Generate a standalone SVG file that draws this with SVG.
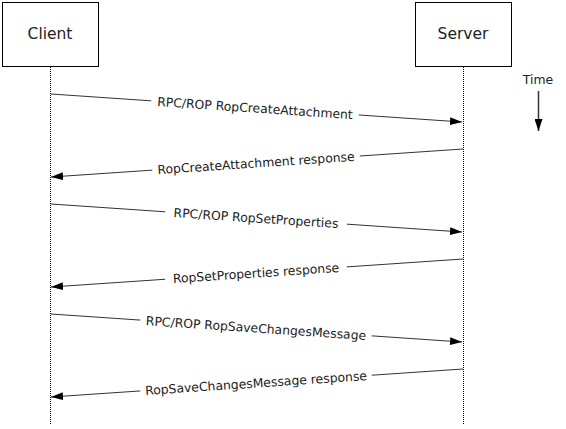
<svg xmlns="http://www.w3.org/2000/svg" width="566" height="429" viewBox="0 0 566 429">
<style>
.box{fill:#fff;stroke:#000;stroke-width:1}
.life{stroke:#000;stroke-width:1;stroke-dasharray:1,1}
.msg{stroke:#333;stroke-width:1;fill:none;marker-end:url(#ah)}
.lbl{font-family:"DejaVu Sans",Verdana,sans-serif;font-size:12.4px;fill:#222;text-anchor:middle}
.nm{font-family:"DejaVu Sans",Verdana,sans-serif;font-size:15.5px;fill:#222;text-anchor:middle}
.bg{fill:#fff}
</style>
<defs>
<marker id="ah" markerWidth="12" markerHeight="8" refX="12" refY="4" orient="auto" markerUnits="userSpaceOnUse">
<path d="M0,0 L12,4 L0,8 Z" fill="#000"/>
</marker>
</defs>
<rect width="566" height="429" fill="#fff"/>
<g id="client">
<rect class="box" x="2.5" y="2.5" width="96" height="64"/>
<text class="nm" x="50" y="39">Client</text>
<line class="life" x1="50.5" y1="67" x2="50.5" y2="425"/>
</g>
<g id="server">
<rect class="box" x="415.5" y="2.5" width="96" height="64"/>
<text class="nm" x="463" y="39">Server</text>
<line class="life" x1="463.5" y1="67" x2="463.5" y2="425"/>
</g>
<g id="time">
<text class="lbl" x="538" y="84">Time</text>
<line x1="538.5" y1="91" x2="538.5" y2="131" stroke="#333" stroke-width="1.5" marker-end="url(#ah)"/>
</g>
<g id="connectors">
<line class="msg" x1="51" y1="94" x2="462" y2="122"/>
<line class="msg" x1="463" y1="149" x2="51" y2="177"/>
<line class="msg" x1="51" y1="204" x2="462" y2="232"/>
<line class="msg" x1="463" y1="259" x2="51" y2="287"/>
<line class="msg" x1="51" y1="314" x2="462" y2="342"/>
<line class="msg" x1="463" y1="369" x2="51" y2="397"/>
</g>
<g id="labels">
<g transform="translate(255,108) rotate(3.86)"><rect class="bg" x="-104" y="-8" width="208" height="16"/><text class="lbl" x="0" y="4.5">RPC/ROP RopCreateAttachment</text></g>
<g transform="translate(256,163) rotate(-3.86)"><rect class="bg" x="-104" y="-8" width="208" height="16"/><text class="lbl" x="0" y="4.5">RopCreateAttachment response</text></g>
<g transform="translate(256,218) rotate(3.86)"><rect class="bg" x="-91" y="-8" width="182" height="16"/><text class="lbl" x="0" y="4.5">RPC/ROP RopSetProperties</text></g>
<g transform="translate(256,273) rotate(-3.86)"><rect class="bg" x="-91" y="-8" width="182" height="16"/><text class="lbl" x="0" y="4.5">RopSetProperties response</text></g>
<g transform="translate(256,328) rotate(3.86)"><rect class="bg" x="-116" y="-8" width="232" height="16"/><text class="lbl" x="0" y="4.5">RPC/ROP RopSaveChangesMessage</text></g>
<g transform="translate(256,383) rotate(-3.86)"><rect class="bg" x="-116" y="-8" width="232" height="16"/><text class="lbl" x="0" y="4.5">RopSaveChangesMessage response</text></g>
</g>
</svg>
